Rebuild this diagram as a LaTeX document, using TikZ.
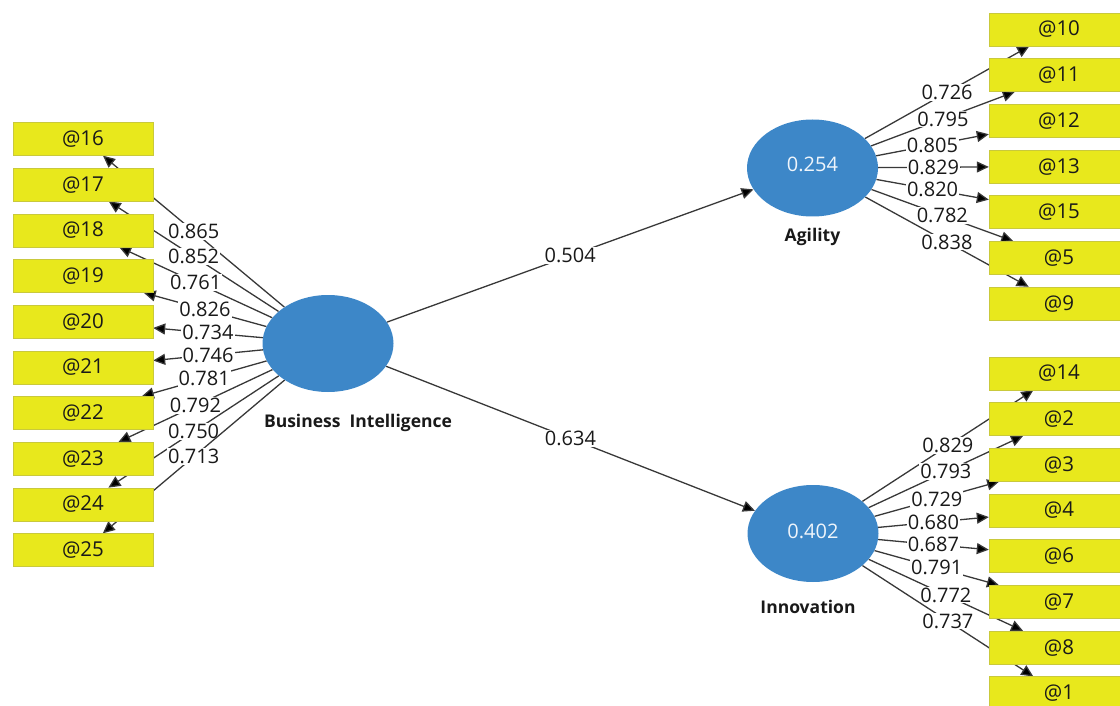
\documentclass[tikz,border=0pt]{standalone}
\usepackage{fontspec}
\setmainfont{Open Sans}
\usetikzlibrary{shapes,arrows.meta,backgrounds}
\definecolor{boxyellow}{HTML}{E8E81C}
\definecolor{boxedge}{HTML}{C9C93C}
\definecolor{latblue}{HTML}{3D87C8}
\definecolor{linegray}{HTML}{383838}
\tikzstyle{ind} = [rectangle,draw=boxedge,fill=boxyellow,minimum width=140pt,minimum height=33pt,text centered,text=black!90,font=\fontsize{20.5}{22}\selectfont]
\tikzstyle{lat} = [ellipse,fill=latblue,text=white!92!latblue,minimum width=131pt,minimum height=97pt,inner sep=0pt,font=\fontsize{20}{22}\selectfont]
\tikzstyle{latname} = [text=black!90,font=\fontsize{17.5}{20}\selectfont\bfseries]
\tikzstyle{loading} = [draw=linegray,line width=1.3pt,-{Triangle[length=12pt,width=11pt,fill=black]}]
\tikzstyle{coef} = [fill=white,inner sep=1pt,text=black!90,font=\fontsize{20}{22}\selectfont]

\begin{document}
\begin{tikzpicture}[x=1pt,y=1pt,node distance=45.67pt]
    	\useasboundingbox (0,0) rectangle (1120,-706);

    	% latent variables
    	\node[lat](bi) at (328,-343.5) {};
    	\node[latname,xshift=30pt,yshift=-33.8pt,below of=bi](biname) {Business\ \ Intelligence};
    	\node[lat](agility) at (812.5,-168) {\raisebox{7pt}{0.254}};
    	\node[latname,yshift=-23.3pt,below of=agility](agilityname) {Agility};
    	\node[lat](innovation) at (813,-533.5) {\raisebox{4pt}{0.402}};
    	\node[latname,xshift=-5pt,yshift=-27.8pt,below of=innovation](innovationname) {Innovation};

    	% indicators of business intelligence
    	\node[ind](b16) at (83,-139) {@16};
    	\node[ind,below of=b16](b17) {@17};
    	\node[ind,below of=b17](b18) {@18};
    	\node[ind,below of=b18](b19) {@19};
    	\node[ind,below of=b19](b20) {@20};
    	\node[ind,below of=b20](b21) {@21};
    	\node[ind,below of=b21](b22) {@22};
    	\node[ind,below of=b22](b23) {@23};
    	\node[ind,below of=b23](b24) {@24};
    	\node[ind,below of=b24](b25) {@25};

    	% indicators of agility
    	\node[ind](a10) at (1059,-29.5) {@10};
    	\node[ind,below of=a10](a11) {@11};
    	\node[ind,below of=a11](a12) {@12};
    	\node[ind,below of=a12](a13) {@13};
    	\node[ind,below of=a13](a15) {@15};
    	\node[ind,below of=a15](a5) {@5};
    	\node[ind,below of=a5](a9) {@9};

    	% indicators of innovation
    	\node[ind](i14) at (1059,-373.5) {@14};
    	\node[ind,below of=i14](i2) {@2};
    	\node[ind,below of=i2](i3) {@3};
    	\node[ind,below of=i3](i4) {@4};
    	\node[ind,below of=i4](i6) {@6};
    	\node[ind,below of=i6](i7) {@7};
    	\node[ind,below of=i7](i8) {@8};
    	\node[ind,below of=i8](i1) {@1};

    	\begin{pgfonlayer}{background}
    	\draw[loading] (bi) -- node[coef]{0.504} (agility);
    	\draw[loading] (bi) -- node[coef]{0.634} (innovation);

    	\draw[loading] (bi) -- node[coef]{0.865} (b16);
    	\draw[loading] (bi) -- node[coef]{0.852} (b17);
    	\draw[loading] (bi) -- node[coef]{0.761} (b18);
    	\draw[loading] (bi) -- node[coef]{0.826} (b19);
    	\draw[loading] (bi) -- node[coef]{0.734} (b20);
    	\draw[loading] (bi) -- node[coef]{0.746} (b21);
    	\draw[loading] (bi) -- node[coef]{0.781} (b22);
    	\draw[loading] (bi) -- node[coef]{0.792} (b23);
    	\draw[loading] (bi) -- node[coef]{0.750} (b24);
    	\draw[loading] (bi) -- node[coef]{0.713} (b25);

    	\draw[loading] (agility) -- node[coef]{0.726} (a10);
    	\draw[loading] (agility) -- node[coef]{0.795} (a11);
    	\draw[loading] (agility) -- node[coef]{0.805} (a12);
    	\draw[loading] (agility) -- node[coef]{0.829} (a13);
    	\draw[loading] (agility) -- node[coef]{0.820} (a15);
    	\draw[loading] (agility) -- node[coef]{0.782} (a5);
    	\draw[loading] (agility) -- node[coef]{0.838} (a9);

    	\draw[loading] (innovation) -- node[coef]{0.829} (i14);
    	\draw[loading] (innovation) -- node[coef]{0.793} (i2);
    	\draw[loading] (innovation) -- node[coef]{0.729} (i3);
    	\draw[loading] (innovation) -- node[coef]{0.680} (i4);
    	\draw[loading] (innovation) -- node[coef]{0.687} (i6);
    	\draw[loading] (innovation) -- node[coef]{0.791} (i7);
    	\draw[loading] (innovation) -- node[coef]{0.772} (i8);
    	\draw[loading] (innovation) -- node[coef]{0.737} (i1);
    	\end{pgfonlayer}

\end{tikzpicture}
\end{document}
